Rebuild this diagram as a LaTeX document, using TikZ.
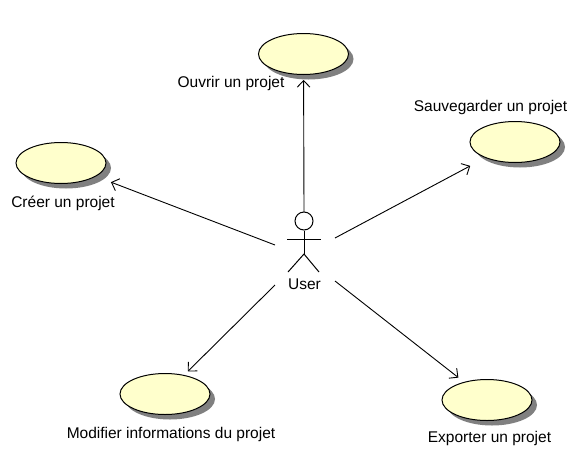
\documentclass[tikz,border=0pt]{standalone}
\usepackage{fontspec}
\setmainfont{Liberation Sans}
\usetikzlibrary{shapes.geometric,arrows.meta}
\definecolor{ucfill}{RGB}{255,255,204}
\definecolor{ucshadow}{RGB}{128,128,128}
\tikzset{
  x=1pt,y=-1pt,
  usecase/.style={ellipse,draw=black,fill=ucfill,line width=1pt,minimum width=90pt,minimum height=41pt,inner sep=0pt},
  shade/.style={ellipse,fill=ucshadow,minimum width=90pt,minimum height=41pt,inner sep=0pt},
  lbl/.style={font=\fontsize{15.5}{17}\selectfont,text=black,inner sep=0pt,anchor=center},
  assoc/.style={draw=black,line width=0.9pt,-{Straight Barb[length=6.5pt,width=12.7pt,line width=0.9pt]}},
  limb/.style={draw=black,line width=1pt},
}
\begin{document}
\begin{tikzpicture}
\useasboundingbox (0,0) rectangle (577,455);
\fill[white] (0,0) rectangle (577,455);
% shadows
\node[shade] at (308.5,59) {};
\node[shade] at (520,147) {};
\node[shade] at (66,168) {};
\node[shade] at (170,399) {};
\node[shade] at (492,405) {};
% use cases
\node[usecase] (ouvrir) at (303.5,54) {};
\node[usecase] (sauver) at (515,142) {};
\node[usecase] (creer) at (61,163) {};
\node[usecase] (modif) at (165,394) {};
\node[usecase] (export) at (487,400) {};
% labels
\node[lbl] (lo) at (231,83.5) {Ouvrir un projet};
\node[lbl] (ls) at (490.5,107.2) {Sauvegarder un projet};
\node[lbl] (lc) at (63,203.7) {Créer un projet};
\node[lbl] (lm) at (171,434.7) {Modifier informations du projet};
\node[lbl] (le) at (489.5,438.2) {Exporter un projet};
\node[lbl] (user) at (304.5,284) {User};
% actor
\node[circle,draw=black,fill=white,line width=1pt,minimum size=18pt,inner sep=0pt] (head) at (304,221) {};
\coordinate (hip) at (304,254);
\coordinate (armL) at (287,239);
\coordinate (armR) at (321,239);
\coordinate (footL) at (288,272);
\coordinate (footR) at (319,272);
\draw[limb] (head.south) -- (hip);
\draw[limb] (armL) -- (armR);
\draw[limb] (footL) -- (hip) -- (footR);
% connectors
\coordinate (a1) at (304,212);
\coordinate (a2) at (335,238);
\coordinate (a3) at (275,245);
\coordinate (a4) at (275,285);
\coordinate (a5) at (335,281);
\draw[assoc,shorten >=5pt] (a1) -- (ouvrir);
\draw[assoc,shorten >=17pt] (a2) -- (sauver);
\draw[assoc,shorten >=16pt] (a3) -- (creer);
\draw[assoc,shorten >=5pt] (a4) -- (modif);
\draw[assoc,shorten >=7pt] (a5) -- (export);
\end{tikzpicture}
\end{document}
